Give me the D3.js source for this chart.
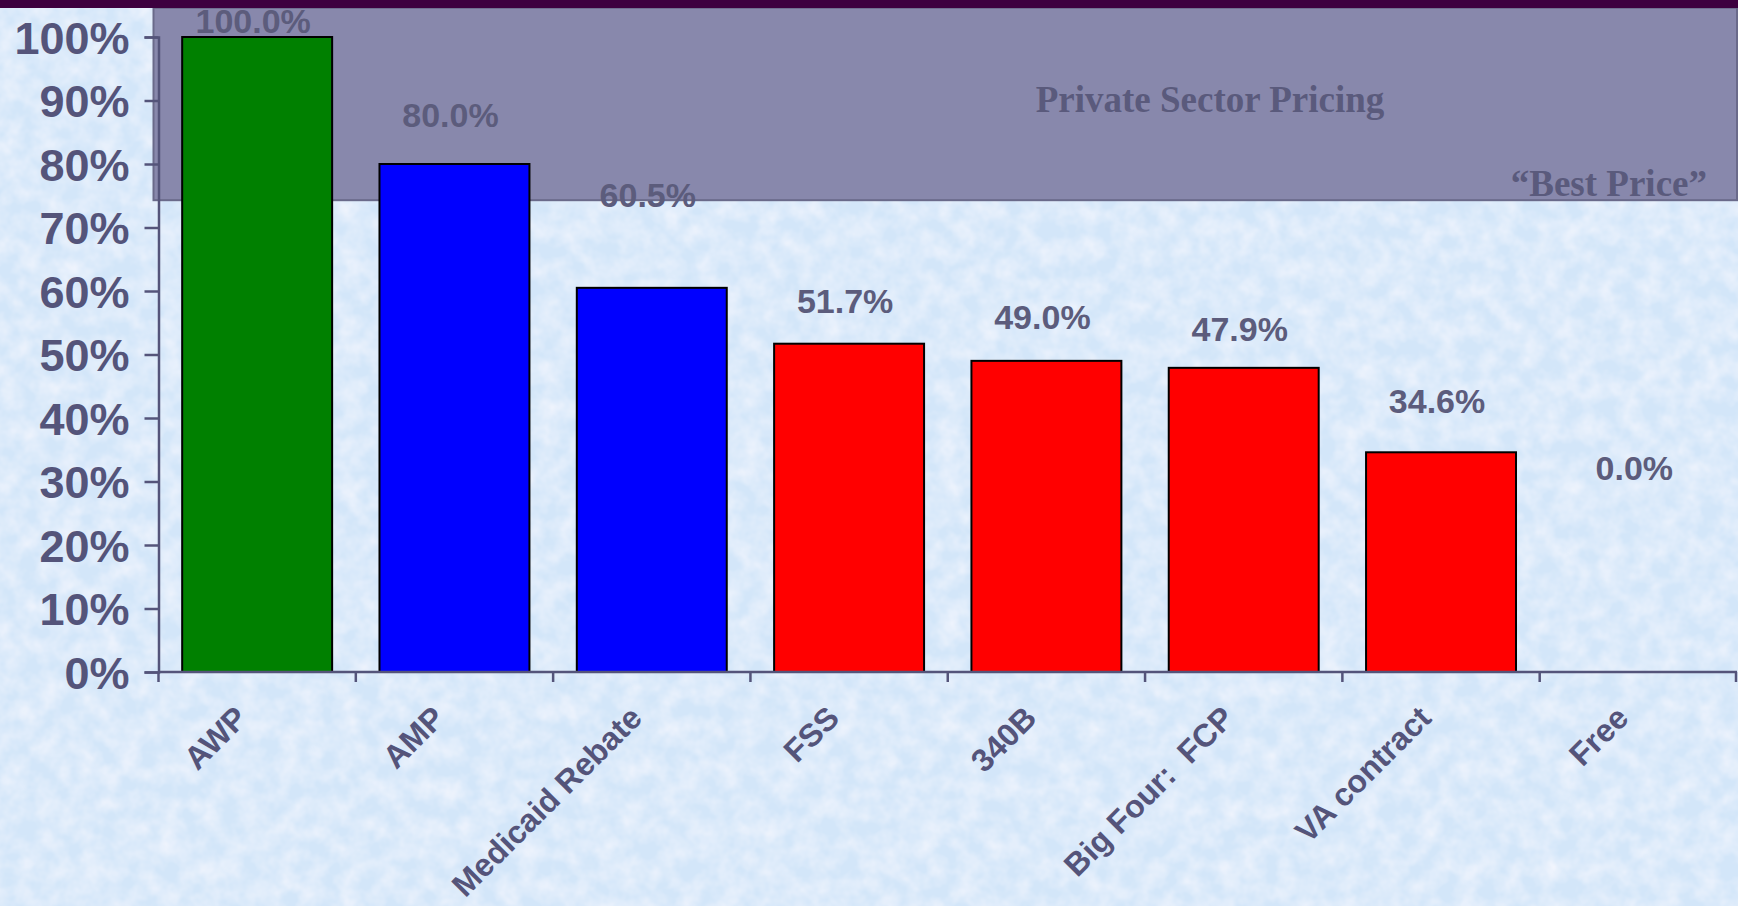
<!DOCTYPE html>
<html>
<head>
<meta charset="utf-8">
<script src="https://cdn.jsdelivr.net/npm/d3@7"></script>
<style>
  html, body { margin: 0; padding: 0; overflow: hidden; }
  body { width: 1738px; height: 906px; }
  text { font-family: "Liberation Sans", Arial, sans-serif; font-weight: bold; }
</style>
</head>
<body>
<div id="chart"></div>
<script>
// data
const categories = ["AWP", "AMP", "Medicaid Rebate", "FSS", "340B", "Big Four:  FCP", "VA contract", "Free"];
const values = [100.0, 80.0, 60.5, 51.7, 49.0, 47.9, 34.6, 0.0];
const groups = ["list", "manufacturer", "manufacturer", "federal", "federal", "federal", "federal", "federal"];
// where each value label sits, in percent units (as placed on the slide)
const labelLevels = [102.6, 87.8, 75.1, 58.5, 55.9, 54.0, 42.7, 32.2];
const yTicks = [0, 10, 20, 30, 40, 50, 60, 70, 80, 90, 100];
// private sector band, in percent units
const bestPrice = 74.3;
const bandTop = 104.6;

const W = 1738, H = 906;
const margin = {top: 37, right: 1, bottom: 234, left: 158.5};
const innerH = H - margin.top - margin.bottom;

const colors = {list: "#008000", manufacturer: "#0000ff", federal: "#ff0000"};
const ink = "#54547a";

const svg = d3.select("#chart").append("svg")
    .attr("width", W)
    .attr("height", H);

// mottled light blue background
const defs = svg.append("defs");
const f = defs.append("filter").attr("id", "marble")
    .attr("x", 0).attr("y", 0).attr("width", 1).attr("height", 1);
f.append("feTurbulence")
    .attr("type", "fractalNoise")
    .attr("baseFrequency", "0.05")
    .attr("numOctaves", 3)
    .attr("seed", 7);
f.append("feColorMatrix")
    .attr("type", "matrix")
    .attr("values", "0 0 0 0 1  0 0 0 0 0.97  0 0 0 0 1  1.0 0 0 0 -0.3");

svg.append("rect").attr("width", W).attr("height", H).attr("fill", "#d3e6f9");
svg.append("rect").attr("width", W).attr("height", H).attr("fill", "#fff").attr("filter", "url(#marble)");

const g = svg.append("g")
    .attr("transform", "translate(" + margin.left + "," + margin.top + ")");

const innerW = W - margin.left - margin.right;

// scales
const x = d3.scaleBand()
    .domain(categories)
    .range([0, innerW])
    .paddingInner(0.24)
    .paddingOuter(0.12);

const y = d3.scaleLinear()
    .domain([0, 100])
    .range([innerH, 0]);

// private sector pricing band
g.append("rect")
    .attr("x", -5)
    .attr("y", y(bandTop))
    .attr("width", innerW + 5)
    .attr("height", y(bestPrice) - y(bandTop))
    .attr("fill", "#8888ac")
    .attr("stroke", "#6a6a8a")
    .attr("stroke-width", 2);

g.append("text")
    .attr("x", 1210 - margin.left)
    .attr("y", 112 - margin.top)
    .attr("text-anchor", "middle")
    .style("font-family", "'Liberation Serif', 'Times New Roman', serif")
    .style("font-size", "37px")
    .attr("fill", "#5a5a7c")
    .text("Private Sector Pricing");

g.append("text")
    .attr("x", innerW - 30)
    .attr("y", y(bestPrice) - 4)
    .attr("text-anchor", "end")
    .style("font-family", "'Liberation Serif', 'Times New Roman', serif")
    .style("font-size", "37px")
    .attr("fill", "#5a5a7c")
    .text("\u201CBest Price\u201D");

// bars
g.selectAll(".bar")
    .data(categories)
    .enter().append("rect")
    .attr("class", "bar")
    .attr("x", d => x(d))
    .attr("y", (d, i) => y(values[i]))
    .attr("width", x.bandwidth())
    .attr("height", (d, i) => y(0) - y(values[i]))
    .attr("fill", (d, i) => colors[groups[i]])
    .attr("stroke", "#000")
    .attr("stroke-width", 2)
    .style("display", (d, i) => values[i] > 0 ? null : "none");

// y axis
const yAxis = d3.axisLeft(y)
    .tickValues(yTicks)
    .tickFormat(d => d + "%")
    .tickSize(14)
    .tickPadding(15);

const yAxisG = g.append("g").call(yAxis);
yAxisG.select(".domain").attr("stroke", ink).attr("stroke-width", 2.5);
yAxisG.selectAll(".tick line").attr("stroke", ink).attr("stroke-width", 2.5);
yAxisG.selectAll(".tick text")
    .attr("fill", ink)
    .style("font-size", "45px")
    .attr("dy", "0.36em");

// x axis, ticks between categories
const xAxisG = g.append("g").attr("transform", "translate(0," + innerH + ")");
xAxisG.append("line")
    .attr("x1", 0).attr("x2", innerW)
    .attr("stroke", ink).attr("stroke-width", 2.5);
xAxisG.selectAll(".sep")
    .data(d3.range(categories.length + 1))
    .enter().append("line")
    .attr("class", "sep")
    .attr("x1", i => Math.min(i * x.step(), innerW - 1))
    .attr("x2", i => Math.min(i * x.step(), innerW - 1))
    .attr("y1", 0).attr("y2", 10)
    .attr("stroke", ink).attr("stroke-width", 2.5);

xAxisG.selectAll(".cat")
    .data(categories)
    .enter().append("text")
    .attr("class", "cat")
    .attr("transform", d => "translate(" + (x(d) + x.bandwidth() / 2 - 8) + ",48) rotate(-45)")
    .attr("text-anchor", "end")
    .attr("fill", ink)
    .style("font-size", "32px")
    .style("white-space", "pre")
    .text(d => d);

// value labels
g.selectAll(".val")
    .data(categories)
    .enter().append("text")
    .attr("class", "val")
    .attr("x", d => x(d) + x.bandwidth() / 2 - 4)
    .attr("y", (d, i) => y(labelLevels[i]))
    .attr("dy", "0.36em")
    .attr("text-anchor", "middle")
    .attr("fill", "#5c5c7c")
    .style("font-size", "34px")
    .text((d, i) => d3.format(".1f")(values[i]) + "%");

// slide frame: dark band on top
svg.append("rect")
    .attr("width", W)
    .attr("height", 8)
    .attr("fill", "#3d003f");
</script>
</body>
</html>
